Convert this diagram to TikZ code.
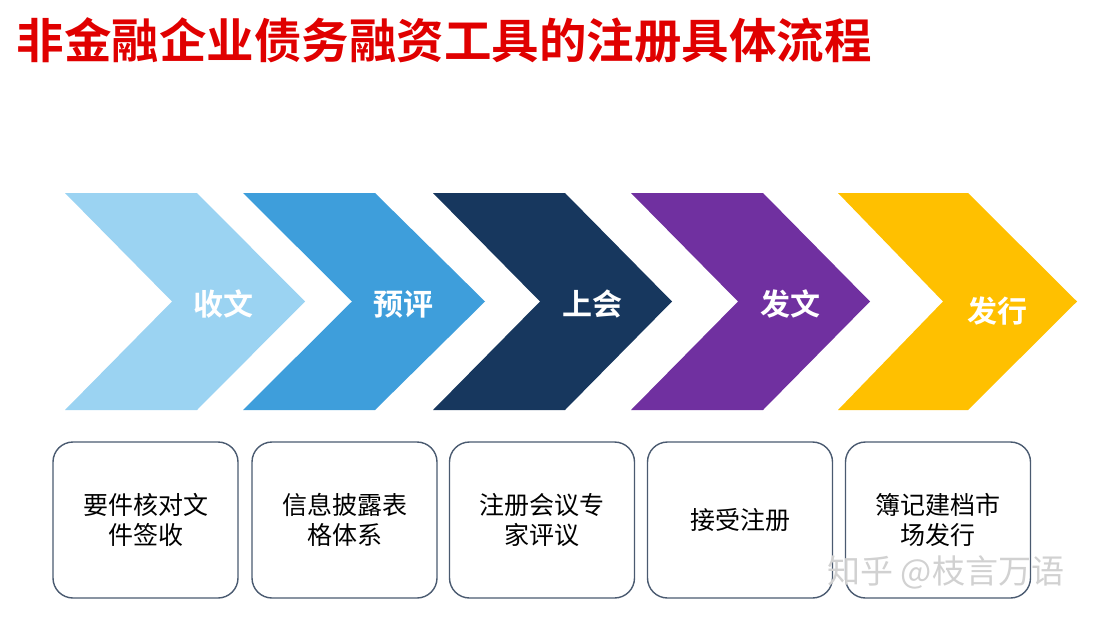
\documentclass[tikz,border=0pt]{standalone}
\usepackage{fontspec}
\newfontfamily\cjk{Noto Sans CJK SC}
\newfontfamily\cjkbold{Noto Sans CJK SC Bold}
\definecolor{titelrot}{HTML}{E00000}
\definecolor{hellblau}{HTML}{9BD3F2}
\definecolor{mittelblau}{HTML}{3E9EDB}
\definecolor{dunkelblau}{HTML}{17375E}
\definecolor{violett}{HTML}{7030A0}
\definecolor{gold}{HTML}{FFC000}
\definecolor{rahmen}{HTML}{4A5A70}
\begin{document}
\begin{tikzpicture}[
      x=1pt, y=-1pt,
      titel/.style={anchor=west, text=titelrot, font=\cjkbold\fontsize{47.5}{50}\selectfont},
      stufe/.style={text=white, font=\cjkbold\fontsize{30}{34}\selectfont},
      box/.style={draw=rahmen, line width=1.4pt, rounded corners=20pt, minimum width=185pt, minimum height=156pt, align=center, font=\cjk\fontsize{25}{30}\selectfont},
      zeichen/.style={text=black!18, font=\cjk\fontsize{33}{36}\selectfont}
    ]
      \useasboundingbox (0,0) rectangle (1093,618);
      \node[titel] (titel) at (13,40) {非金融企业债务融资工具的注册具体流程};
      \fill[hellblau] (65,193) -- (197,193) -- (305,301.5) -- (197,410) -- (65,410) -- (172,301.5) -- cycle;
      \fill[mittelblau] (243,193) -- (375,193) -- (485,301.5) -- (375,410) -- (243,410) -- (352,301.5) -- cycle;
      \fill[dunkelblau] (433,193) -- (565,193) -- (672,301.5) -- (565,410) -- (433,410) -- (540,301.5) -- cycle;
      \fill[violett] (631,193) -- (763,193) -- (870,301.5) -- (763,410) -- (631,410) -- (738,301.5) -- cycle;
      \fill[gold] (838,193) -- (968,193) -- (1077,301.5) -- (968,410) -- (838,410) -- (943,301.5) -- cycle;
      \node[stufe] (shouwen) at (223,304) {收文};
      \node[stufe] (yuping) at (403,304) {预评};
      \node[stufe] (shanghui) at (592,304) {上会};
      \node[stufe] (fawen) at (790,304) {发文};
      \node[stufe] (faxing) at (997,311) {发行};
      \node[box] (pruefung) at (145.5,520) {要件核对文\\件签收};
      \node[box] (offenlegung) at (344.5,520) {信息披露表\\格体系};
      \node[box] (sitzung) at (542,520) {注册会议专\\家评议};
      \node[box] (annahme) at (740,520) {接受注册};
      \node[box] (ausgabe) at (938,520) {簿记建档市\\场发行};
      \node[zeichen, anchor=west] (wasserzeichen) at (824,572) {知乎 @枝言万语};
    \end{tikzpicture}
\end{document}
